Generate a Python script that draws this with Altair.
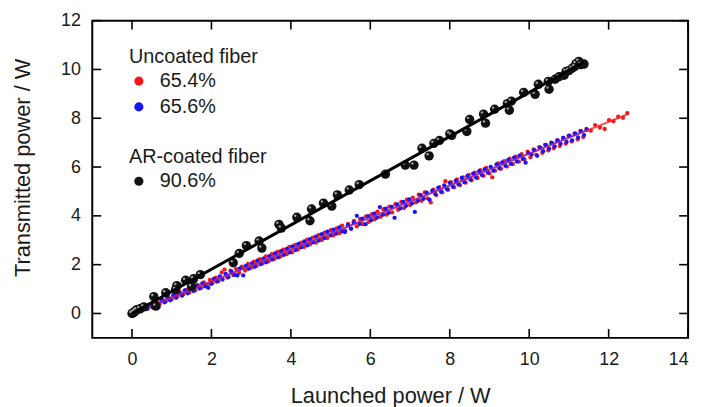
import altair as alt
import pandas as pd

# ---- data ----
red_x = [0.00,0.06,0.12,0.19,0.26,0.33,0.41,0.48,0.55,0.63,0.70,0.77,0.85,0.92,1.00,1.07,1.14,1.22,1.29,1.37,
         1.44,1.52,1.59,1.66,1.74,1.81,1.89,1.96,2.03,2.11,2.18,2.26,2.33,2.40,2.48,2.55,2.62,2.70,2.77,2.85,
         2.92,3.00,3.07,3.14,3.22,3.29,3.37,3.44,3.52,3.59,3.66,3.74,3.81,3.89,3.96,4.03,4.11,4.18,4.26,4.33,
         4.41,4.48,4.55,4.63,4.70,4.78,4.85,4.92,5.00,5.07,5.15,5.22,5.29,5.37,5.44,5.52,5.59,5.66,5.74,5.81,
         5.89,5.96,6.04,6.11,6.18,6.26,6.33,6.41,6.48,6.55,6.63,6.70,6.78,6.85,6.92,7.00,7.07,7.15,7.22,7.29,
         7.37,7.44,7.52,7.59,7.66,7.74,7.81,7.89,7.96,8.03,8.11,8.18,8.26,8.33,8.40,8.48,8.55,8.63,8.70,8.77,
         8.85,8.92,9.00,9.07,9.14,9.22,9.29,9.37,9.44,9.51,9.59,9.66,9.74,9.81,9.88,9.96,10.03,10.11,10.18,10.25,
         10.33,10.40,10.48,10.55,10.62,10.70,10.77,10.85,10.92,10.99,11.07,11.14,11.22,11.29,11.36,11.44,11.55,11.66,11.78,11.90,
         12.01,12.12,12.24,12.36,12.47]
red_y = [0.00,0.07,0.03,0.16,0.12,0.27,0.22,0.36,0.30,0.47,0.40,0.56,0.49,0.67,0.58,0.77,0.69,0.86,0.78,0.97,
         0.86,1.07,0.95,1.17,1.04,1.27,1.15,1.38,1.25,1.47,1.33,1.68,1.80,1.47,1.75,1.58,1.83,1.66,1.92,1.76,
         2.03,1.87,2.12,1.95,2.23,2.05,2.34,2.14,2.43,2.24,2.52,2.33,2.62,2.43,2.73,2.51,2.81,2.63,2.90,2.72,
         3.02,2.83,3.11,2.90,3.22,3.01,3.31,3.09,3.41,3.20,3.49,3.29,3.60,3.38,3.67,3.47,3.79,3.57,3.87,3.66,
         3.98,3.75,4.07,3.86,4.17,3.96,4.27,4.05,4.38,4.14,4.48,4.25,4.57,4.32,4.66,4.44,4.75,4.55,4.87,4.62,
         4.96,4.72,4.55,5.07,4.85,5.18,4.96,5.42,5.07,5.38,5.17,5.49,5.26,5.58,5.36,5.68,5.46,5.77,5.55,5.87,
         5.64,5.96,5.74,5.58,5.85,6.15,5.93,6.24,6.02,6.34,6.12,6.43,6.22,6.53,6.32,6.63,6.40,6.72,6.50,6.82,
         6.58,6.91,6.68,7.00,6.77,7.09,6.86,7.19,6.96,7.28,7.05,7.38,7.14,7.48,7.23,7.56,7.49,7.72,7.62,7.56,
         7.92,7.88,8.06,8.02,8.21]

blue_x = [0.03,0.09,0.16,0.23,0.30,0.38,0.45,0.52,0.60,0.67,0.74,0.82,0.89,0.96,1.04,1.11,1.18,1.26,1.33,1.40,
          1.48,1.55,1.62,1.70,1.77,1.84,1.92,1.99,2.06,2.14,2.21,2.28,2.36,2.43,2.50,2.58,2.65,2.72,2.80,2.87,
          2.94,3.02,3.09,3.16,3.24,3.31,3.38,3.46,3.53,3.60,3.68,3.75,3.82,3.90,3.97,4.04,4.12,4.19,4.26,4.34,
          4.41,4.48,4.56,4.63,4.70,4.78,4.85,4.92,5.00,5.07,5.14,5.22,5.29,5.36,5.44,5.51,5.58,5.66,5.73,5.80,
          5.88,5.95,6.02,6.10,6.17,6.24,6.32,6.39,6.46,6.54,6.61,6.68,6.76,6.83,6.90,6.98,7.05,7.12,7.20,7.27,
          7.34,7.42,7.49,7.56,7.64,7.71,7.78,7.86,7.93,8.00,8.08,8.15,8.22,8.30,8.37,8.44,8.52,8.59,8.66,8.74,
          8.81,8.88,8.96,9.03,9.10,9.18,9.25,9.32,9.40,9.47,9.54,9.62,9.69,9.76,9.84,9.91,9.98,10.06,10.13,10.20,
          10.28,10.35,10.42,10.50,10.57,10.64,10.72,10.79,10.86,10.94,11.01,11.08,11.16,11.23,11.30,11.38,11.45]
blue_y = [0.06,0.00,0.16,0.09,0.25,0.18,0.35,0.26,0.46,0.27,0.56,0.46,0.65,0.54,0.75,0.64,0.84,0.73,0.95,0.83,
          1.04,0.92,1.14,1.02,1.23,1.11,1.05,1.21,1.42,1.31,1.52,1.39,1.62,1.49,1.72,1.58,1.56,1.85,1.56,1.95,
          1.83,2.05,1.91,2.16,2.02,2.25,2.10,2.35,2.21,2.46,2.30,2.55,2.40,2.65,2.50,2.75,2.60,2.85,2.71,2.95,
          2.79,3.05,2.91,3.15,2.99,3.25,3.09,3.35,3.20,3.43,3.27,3.53,3.37,3.34,3.62,3.48,3.73,4.00,3.67,3.89,
          3.66,3.99,3.82,4.09,3.93,4.36,4.05,4.29,4.12,4.37,3.92,4.47,4.31,4.57,4.41,4.67,4.51,4.16,4.62,4.85,
          4.70,4.95,4.66,5.03,4.89,5.15,4.99,5.25,5.09,5.35,5.19,5.43,5.29,5.55,5.38,5.63,5.49,5.73,5.57,5.83,
          5.67,5.91,5.77,6.01,5.85,6.11,5.95,6.19,6.05,6.29,6.13,6.39,6.23,6.47,6.33,6.18,6.57,6.51,6.69,6.46,
          6.79,6.65,6.91,6.75,6.99,6.85,7.09,6.95,7.19,7.03,7.29,7.09,7.37,7.21,7.47,7.31,7.53]

black_x = [0.00,0.02,0.05,0.08,0.12,0.20,0.30,0.55,0.60,0.85,1.10,1.13,1.35,1.50,1.55,1.72,2.55,2.70,2.88,3.20,
           3.27,3.70,3.76,4.15,4.48,4.52,4.82,5.03,5.17,5.47,5.72,6.38,6.88,7.10,7.30,7.48,7.60,7.74,8.00,8.05,
           8.43,8.50,8.85,8.90,9.13,9.45,9.50,9.55,9.86,10.15,10.23,10.48,10.50,10.65,10.75,10.88,10.93,11.00,11.08,11.15,
           11.18,11.25,11.30,11.38]
black_y = [0.00,0.02,0.04,0.10,0.15,0.20,0.27,0.69,0.30,0.85,0.98,1.14,1.36,1.10,1.42,1.59,2.08,2.46,2.78,2.97,
           2.68,3.65,3.50,3.94,3.80,4.28,4.52,4.40,4.86,5.06,5.28,5.71,6.08,6.08,6.77,6.46,6.97,7.09,7.36,7.30,
           7.46,7.95,8.17,7.80,8.37,8.60,8.33,8.70,9.06,8.98,9.39,9.51,9.19,9.60,9.70,9.76,9.92,9.95,10.05,10.12,
           10.24,10.33,10.20,10.22]

# fitted lines (end points)
fit_black_x = [0.0, 11.38]
fit_black_y = [0.0, 10.31]
fit_red_x = [0.0, 12.5]
fit_red_y = [0.0, 8.18]
fit_blue_x = [0.0, 11.45]
fit_blue_y = [0.0, 7.51]

x_ticks = [0, 2, 4, 6, 8, 10, 12, 14]
y_ticks = [0, 2, 4, 6, 8, 10, 12]

uncoated_labels = ["65.4%", "65.6%"]
coated_label = "90.6%"

# ---- tables ----
df_unc = pd.concat([
    pd.DataFrame({"x": red_x, "y": red_y, "s": uncoated_labels[0]}),
    pd.DataFrame({"x": blue_x, "y": blue_y, "s": uncoated_labels[1]}),
])
df_black = pd.DataFrame({"x": black_x, "y": black_y, "s": coated_label})
df_fit_red = pd.DataFrame({"x": fit_red_x, "y": fit_red_y})
df_fit_blue = pd.DataFrame({"x": fit_blue_x, "y": fit_blue_y})
df_fit_black = pd.DataFrame({"x": fit_black_x, "y": fit_black_y})
df_xt = pd.DataFrame({"v": x_ticks})
df_yt = pd.DataFrame({"v": y_ticks})

W, H = 601, 320
FONT = "Liberation Sans"

xs = alt.Scale(domain=[-1, 14], nice=False, zero=False)
ys = alt.Scale(domain=[-1, 12], nice=False, zero=False)
xax = alt.Axis(values=x_ticks, ticks=False, domain=False, grid=False, labelPadding=13,
               title="Launched power / W", titlePadding=17)
yax = alt.Axis(values=y_ticks, ticks=False, domain=False, grid=False, labelPadding=12,
               title="Transmitted power / W", titlePadding=26, titleY=148)

X = alt.X("x:Q", scale=xs, axis=xax)
Y = alt.Y("y:Q", scale=ys, axis=yax)

leg_common = dict(orient="none", padding=0, titleFontSize=20, labelFontSize=20,
                  titleFontWeight="normal", titleFont=FONT, labelFont=FONT,
                  titleColor="#1a1a1a", labelColor="#1a1a1a", symbolSize=85,
                  symbolStrokeWidth=0, rowPadding=6, labelOffset=11, titlePadding=4)

unc_pts = alt.Chart(df_unc).mark_circle(size=19, opacity=1).encode(
    x=X, y=Y,
    color=alt.Color("s:N", scale=alt.Scale(domain=uncoated_labels, range=["#ff1414", "#1414ff"]),
                    legend=alt.Legend(title="Uncoated fiber", legendX=37, legendY=27, **leg_common)),
)
fit_r = alt.Chart(df_fit_red).mark_line(color="#ff2020", strokeWidth=2, opacity=0.8).encode(x="x:Q", y="y:Q")
fit_b = alt.Chart(df_fit_blue).mark_line(color="#3020ff", strokeWidth=2, opacity=0.5).encode(x="x:Q", y="y:Q")

blk_pts = alt.Chart(df_black).mark_circle(size=90, opacity=1).encode(
    x="x:Q", y="y:Q",
    color=alt.Color("s:N", scale=alt.Scale(domain=[coated_label], range=["#111111"]),
                    legend=alt.Legend(title="AR-coated fiber", legendX=37, legendY=128, **leg_common)),
)
blk_hi = alt.Chart(df_black).mark_circle(size=6, color="#a0a0a0", opacity=1, xOffset=-1.6, yOffset=-1.6).encode(
    x="x:Q", y="y:Q")
fit_k = alt.Chart(df_fit_black).mark_line(color="black", strokeWidth=3).encode(x="x:Q", y="y:Q")

tk = dict(color="black", strokeWidth=1.6)
t_bottom = alt.Chart(df_xt).mark_rule(**tk).encode(x="v:Q", y=alt.value(H), y2=alt.value(H - 9))
t_top = alt.Chart(df_xt).mark_rule(**tk).encode(x="v:Q", y=alt.value(0), y2=alt.value(9))
t_left = alt.Chart(df_yt).mark_rule(**tk).encode(y="v:Q", x=alt.value(0), x2=alt.value(9))
t_right = alt.Chart(df_yt).mark_rule(**tk).encode(y="v:Q", x=alt.value(W), x2=alt.value(W - 9))

chart = alt.layer(
    unc_pts, fit_r, fit_b, blk_pts, blk_hi, fit_k, t_bottom, t_top, t_left, t_right
).resolve_scale(color="independent").resolve_legend(color="independent").properties(
    width=W, height=H,
    autosize=alt.AutoSizeParams(type="none"),
    padding={"left": 85, "top": 11, "right": 10, "bottom": 70},
    background="white",
).configure_view(
    stroke="black", strokeWidth=2
).configure_axis(
    labelFont=FONT, titleFont=FONT, labelFontSize=18, titleFontSize=22,
    titleFontWeight="normal", labelColor="#1a1a1a", titleColor="#1a1a1a",
)

chart.save("out.html", embed_options={"renderer": "svg", "actions": False})
